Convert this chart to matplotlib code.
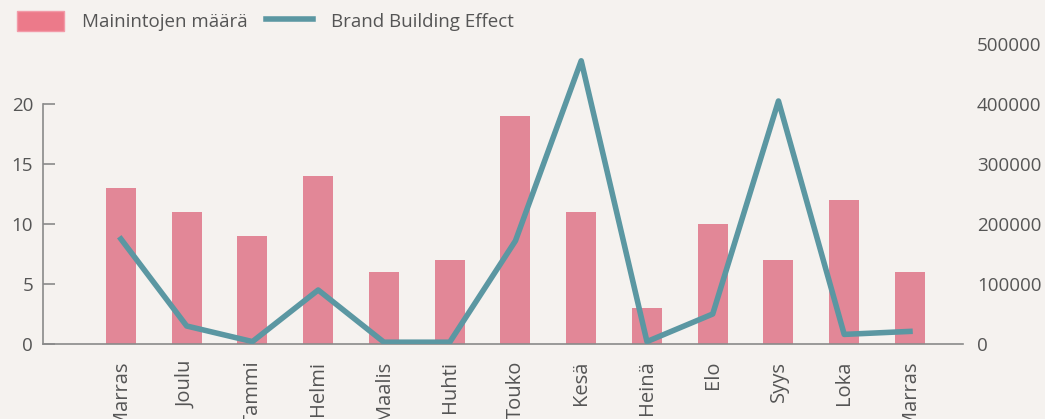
import matplotlib.pyplot as plt
from matplotlib.patches import Patch
from matplotlib.lines import Line2D

months = ['Marras', 'Joulu', 'Tammi', 'Helmi', 'Maalis', 'Huhti', 'Touko',
          'Kesä', 'Heinä', 'Elo', 'Syys', 'Loka', 'Marras']
mentions = [13, 11, 9, 14, 6, 7, 19, 11, 3, 10, 7, 12, 6]
brand_effect = [175000, 30000, 4000, 90000, 3000, 3000, 172000,
                472000, 4000, 50000, 405000, 16000, 21000]

bg = '#f5f2ef'
bar_color = '#e28797'
line_color = '#5b97a2'
text_color = '#555555'

plt.rcParams['font.family'] = ['Open Sans', 'DejaVu Sans']

fig = plt.figure(figsize=(10.45, 4.19), dpi=100, facecolor=bg)
ax = fig.add_axes([0.0411, 0.179, 0.8804, 0.716], facecolor=bg)
ax2 = ax.twinx()

x = list(range(len(months)))
ax.bar(x, mentions, width=0.456, color=bar_color, zorder=2)
ax.set_ylim(0, 25)
ax.set_xlim(-1.186, 12.806)
ax.set_yticks([0, 5, 10, 15, 20])
ax.set_xticks(x)
ax.set_xticklabels(months, rotation=90)
for s in ['top', 'right']:
    ax.spines[s].set_visible(False)
ax.spines['left'].set_bounds(0, 20)
ax.spines['left'].set_color('#8a8a8a')
ax.spines['bottom'].set_color('#8a8a8a')
ax.spines['left'].set_linewidth(1.2)
ax.spines['bottom'].set_linewidth(1.2)
ax.tick_params(axis='y', direction='in', length=8.6, width=1.2, color='#8a8a8a',
               labelsize=13.5, labelcolor=text_color, pad=7)
ax.tick_params(axis='x', length=0, labelsize=14.5, labelcolor=text_color, pad=12)

ax2.plot(x, brand_effect, color=line_color, linewidth=4, zorder=3)
ax2.set_ylim(0, 500000)
ax2.set_yticks([0, 100000, 200000, 300000, 400000, 500000])
ax2.set_yticklabels(['0', '100000', '200000', '300000', '400000', '500000'])
for s in ['top', 'left', 'bottom', 'right']:
    ax2.spines[s].set_visible(False)
ax2.tick_params(axis='y', length=0, labelsize=13.5, labelcolor=text_color, pad=10)

handles = [Patch(facecolor='#ec7a8a', edgecolor='#f29aa8', label='Mainintojen määrä'),
           Line2D([], [], color=line_color, linewidth=4, label='Brand Building Effect')]
fig.legend(handles=handles, loc='upper left', bbox_to_anchor=(0.0, 1.015), ncol=2,
           frameon=False, fontsize=13.5, labelcolor=text_color, handlelength=2.5,
           handleheight=1.28, handletextpad=0.96, columnspacing=1.0)

fig.savefig('out.png', dpi=100, facecolor=bg)
